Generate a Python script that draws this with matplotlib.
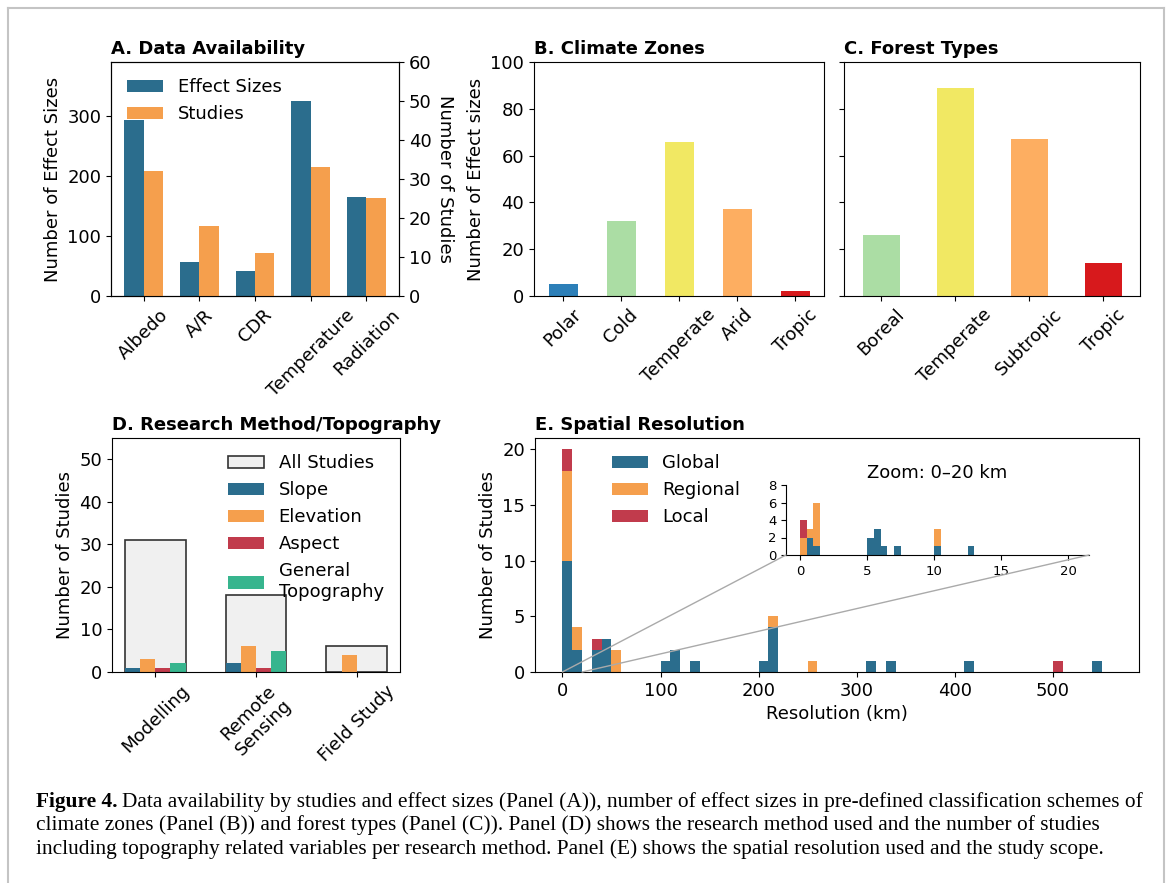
import numpy as np
import matplotlib.pyplot as plt
from matplotlib.patches import ConnectionPatch
from matplotlib.lines import Line2D

plt.rcParams['font.size'] = 13

# panel A
a_cats = ['Albedo', 'A/R', 'CDR', 'Temperature', 'Radiation']
a_effects = [293, 57, 42, 325, 165]
a_studies = [32, 18, 11, 33, 25]

# panel B
b_cats = ['Polar', 'Cold', 'Temperate', 'Arid', 'Tropic']
b_vals = [5, 32, 66, 37, 2]
b_cols = ['#2c7fb8', '#abdda4', '#f1e863', '#fdae61', '#d7191c']

# panel C
c_cats = ['Boreal', 'Temperate', 'Subtropic', 'Tropic']
c_vals = [26, 89, 67, 14]
c_cols = ['#abdda4', '#f1e863', '#fdae61', '#d7191c']

# panel D
d_cats = ['Modelling', 'Remote\nSensing', 'Field Study']
d_all = [31, 18, 6]
d_slope = [1, 2, 0]
d_elev = [3, 6, 4]
d_aspect = [1, 1, 0]
d_topo = [2, 5, 0]

# panel E - resolution (km) per study scope
res_global = [0.75, 0.75, 1.25, 5.25, 5.25, 5.75, 5.75, 5.75, 6.25, 7.25,
              10.25, 12.75, 35, 35, 45, 45, 45, 105, 115, 115, 135, 205,
              215, 215, 215, 215, 315, 335, 415, 545]
res_regional = [0.25, 0.25, 0.75, 1.25, 1.25, 1.25, 1.25, 1.25,
                10.25, 10.25, 55, 55, 215, 255]
res_local = [0.25, 0.25, 35, 505]

blue = '#2b6d8d'
orange = '#f59f4d'
red = '#c13b4c'
green = '#37b58e'
title_fs = 13

fig = plt.figure(figsize=(11.71, 8.83), dpi=100)
W, H = 1171, 883

def box(x0, y0, x1, y1):
    return [x0 / W, 1 - y1 / H, (x1 - x0) / W, (y1 - y0) / H]

# ---- A
ax = fig.add_axes(box(111, 62, 399, 296))
x = np.arange(len(a_cats))
w = 0.35
ax.bar(x - w / 2, a_effects, w, color=blue, label='Effect Sizes')
ax.set_ylim(0, 390)
ax.set_ylabel('Number of Effect Sizes')
ax.set_xticks(x)
ax.set_xticklabels(a_cats, rotation=45)
ax2 = ax.twinx()
ax2.bar(x + w / 2, a_studies, w, color=orange, label='Studies')
ax2.set_ylim(0, 60)
ax2.set_ylabel('Number of Studies', rotation=270, labelpad=16)
h1, l1 = ax.get_legend_handles_labels()
h2, l2 = ax2.get_legend_handles_labels()
ax2.legend(h1 + h2, l1 + l2, loc='upper left', frameon=False)
ax.set_title('A. Data Availability', loc='left', fontweight='bold', fontsize=title_fs)

# ---- B
axb = fig.add_axes(box(534, 62, 824, 296))
axb.bar(np.arange(len(b_cats)), b_vals, 0.5, color=b_cols)
axb.set_xlim(-0.5, len(b_cats) - 0.5)
axb.set_ylim(0, 100)
axb.set_xticks(np.arange(len(b_cats)))
axb.set_xticklabels(b_cats, rotation=45)
axb.set_ylabel('Number of Effect sizes')
axb.set_title('B. Climate Zones', loc='left', fontweight='bold', fontsize=title_fs)

# ---- C
axc = fig.add_axes(box(844, 62, 1140, 296), sharey=axb)
axc.bar(np.arange(len(c_cats)), c_vals, 0.5, color=c_cols)
axc.set_xlim(-0.5, len(c_cats) - 0.5)
axc.set_xticks(np.arange(len(c_cats)))
axc.set_xticklabels(c_cats, rotation=45)
axc.tick_params(axis='y', labelleft=False)
axc.set_title('C. Forest Types', loc='left', fontweight='bold', fontsize=title_fs)

# ---- D
axd = fig.add_axes(box(112, 438, 400, 672))
xd = np.arange(len(d_cats))
axd.bar(xd, d_all, 0.6, color='#f0f0f0', edgecolor='#333333', linewidth=1.2,
        label='All Studies')
sw = 0.15
axd.bar(xd - 1.5 * sw, d_slope, sw, color=blue, label='Slope')
axd.bar(xd - 0.5 * sw, d_elev, sw, color=orange, label='Elevation')
axd.bar(xd + 0.5 * sw, d_aspect, sw, color=red, label='Aspect')
axd.bar(xd + 1.5 * sw, d_topo, sw, color=green, label='General\nTopography')
axd.set_ylim(0, 55)
axd.set_xticks(xd)
axd.set_xticklabels(d_cats, rotation=45)
axd.set_ylabel('Number of Studies')
axd.legend(loc='upper right', frameon=False)
axd.set_title('D. Research Method/Topography', loc='left', fontweight='bold',
              fontsize=title_fs)

# ---- E
axe = fig.add_axes(box(535, 438, 1139, 672))
bins = np.arange(0, 570, 10)
axe.hist([res_global, res_regional, res_local], bins=bins, stacked=True,
         color=[blue, orange, red], label=['Global', 'Regional', 'Local'])
axe.set_yticks([0, 5, 10, 15, 20])
axe.set_xlabel('Resolution (km)')
axe.set_ylabel('Number of Studies')
axe.legend(loc='upper left', bbox_to_anchor=(0.1, 1.0), frameon=False)
axe.set_title('E. Spatial Resolution', loc='left', fontweight='bold', fontsize=title_fs)

ins = fig.add_axes(box(786, 485, 1089, 555))
fine = np.arange(0, 20.5, 0.5)
ins.hist([[v for v in res_global if v <= 20],
          [v for v in res_regional if v <= 20],
          [v for v in res_local if v <= 20]],
         bins=fine, stacked=True, color=[blue, orange, red])
ins.set_xlim(-1.05, 21.55)
ins.set_ylim(0, 8)
ins.set_yticks([0, 2, 4, 6, 8])
ins.set_xticks([0, 5, 10, 15, 20])
ins.tick_params(labelsize=9.5)
ins.spines['top'].set_visible(False)
ins.spines['right'].set_visible(False)
ins.patch.set_alpha(0)
ins.set_title('Zoom: 0–20 km', fontsize=13, pad=5)

for xa, xb in [(0, 0), (1, 20)]:
    con = ConnectionPatch(xyA=(xa, 0), coordsA=ins.transAxes,
                          xyB=(xb, 0), coordsB=axe.transData,
                          color='#aaaaaa', lw=1)
    fig.add_artist(con)

# caption
serif = 'Liberation Serif'
cs = 15.4
t = fig.text(36 / W, 1 - 802 / H, 'Figure 4.', family=serif, fontweight='bold',
             fontsize=cs, va='center')
fig.canvas.draw()
bb = t.get_window_extent()
fig.text(bb.x1 / W + 4 / W, 1 - 802 / H,
         'Data availability by studies and effect sizes (Panel (A)), number of effect sizes in pre-defined classification schemes of',
         family=serif, fontsize=cs, va='center')
fig.text(36 / W, 1 - 825.5 / H,
         'climate zones (Panel (B)) and forest types (Panel (C)). Panel (D) shows the research method used and the number of studies',
         family=serif, fontsize=cs, va='center')
fig.text(36 / W, 1 - 849 / H,
         'including topography related variables per research method. Panel (E) shows the spatial resolution used and the study scope.',
         family=serif, fontsize=cs, va='center')

# frame
fc = '#c4c4c4'
fig.add_artist(Line2D([8 / W, 8 / W], [0, 1 - 8 / H], color=fc, lw=1.5))
fig.add_artist(Line2D([1164 / W, 1164 / W], [0, 1 - 8 / H], color=fc, lw=1.5))
fig.add_artist(Line2D([8 / W, 1164 / W], [1 - 8 / H, 1 - 8 / H], color=fc, lw=1.5))

fig.savefig('out.png', dpi=100)
